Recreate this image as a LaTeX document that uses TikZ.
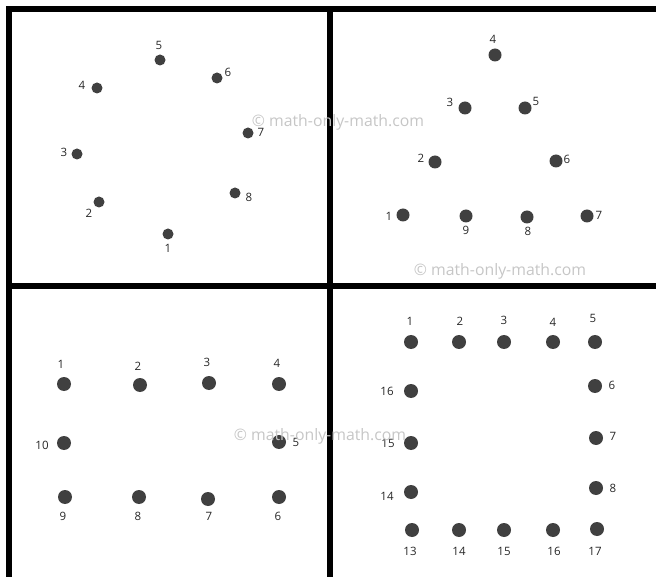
\documentclass[tikz,border=0pt]{standalone}
\usepackage{fontspec}
\setmainfont{Open Sans}
\usepackage{tikz}
\usetikzlibrary{positioning}

\definecolor{dotgray}{HTML}{404040}
\definecolor{wmgray}{HTML}{C6C6C6}

\begin{document}
\begin{tikzpicture}[x=1pt,y=-1pt,
  dot/.style={circle,fill=dotgray,inner sep=0pt,minimum size=14pt},
  tldot/.style={dot,minimum size=11pt},
  trdot/.style={dot,minimum size=13pt},
  num/.style={font=\fontsize{11.5}{12}\selectfont,inner sep=0pt,text=black!85},
  wmark/.style={font=\fontsize{15.8}{16}\selectfont,inner sep=0pt,text=wmgray},
  frame/.style={line width=6pt,black,line join=miter}
]
\useasboundingbox (0,0) rectangle (656,577);

% frames
\draw[frame] (9,577) -- (9,9) -- (656,9);
\draw[frame] (330,9) -- (330,577);
\draw[frame] (9,286) -- (656,286);

% top left: circle of eight points
\foreach \n/\x/\y/\lx/\ly in {1/168/234/168/248, 2/99/202/89/213, 3/77/154/64/152,
    4/97/88/82/85, 5/160/60/159/45, 6/217/78/228/72, 7/248/133/261/132, 8/235/193/249/197}{
  \node[tldot] (tl\n) at (\x,\y) {};
  \node[num] (tl\n-lab) at (\lx,\ly) {\n};
}

% top right: triangle
\foreach \n/\x/\y/\lx/\ly in {1/403/215/389/216, 2/435/162/421/158, 3/465/108/450/102,
    4/495/55/493/39, 5/525/108/536/101, 6/556/161/567/159, 7/587/216/599/215,
    8/527/217/528/231, 9/466/216/466/230}{
  \node[trdot] (tr\n) at (\x,\y) {};
  \node[num] (tr\n-lab) at (\lx,\ly) {\n};
}

% bottom left: rectangle of ten points
\foreach \n/\x/\y/\lx/\ly in {1/64/384/61/364, 2/140/385/138/366, 3/209/383/207/362,
    4/279/384/277/363, 5/279/442/296/442, 6/279/497/278/516, 7/208/499/209/516,
    8/139/497/138/516, 9/65/497/63/516, 10/64/443/42/445}{
  \node[dot] (bl\n) at (\x,\y) {};
  \node[num] (bl\n-lab) at (\lx,\ly) {\n};
}

% bottom right: square of points
\foreach \i/\t/\x/\y/\lx/\ly in {a/1/411/342/410/321, b/2/459/342/460/321,
    c/3/504/342/504/320, d/4/553/342/553/322, e/5/595/342/593/318,
    f/6/595/386/612/385, g/7/596/438/613/436, h/8/596/488/613/488,
    i/17/597/529/595/551, j/16/553/530/554/551, k/15/504/530/504/551,
    l/14/459/530/459/551, m/13/412/530/410/551, n/14/411/492/387/496,
    o/15/411/443/388/443, p/16/411/391/387/391}{
  \node[dot] (br\i) at (\x,\y) {};
  \node[num] (br\i-lab) at (\lx,\ly) {\t};
}

% watermarks
\node[wmark] (wm1) at (338,122) {© math-only-math.com};
\node[wmark] (wm2) at (320,436) {© math-only-math.com};
\node[wmark] (wm3) at (500,271) {© math-only-math.com};
\end{tikzpicture}
\end{document}
